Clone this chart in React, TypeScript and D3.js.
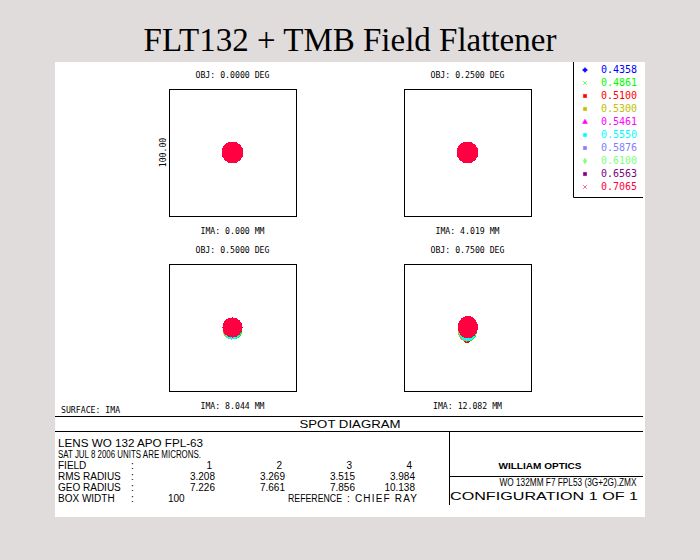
import * as d3 from 'd3';

// wavelengths (microns) and their plot colours
const wavelengths = ['0.4358', '0.4861', '0.5100', '0.5300', '0.5461', '0.5550', '0.5876', '0.6100', '0.6563', '0.7065'];
const wlColors = ['#0000ff', '#00ff00', '#ff0000', '#c0c000', '#ff00ff', '#00ffff', '#8080ff', '#80ff80', '#800080', '#ff0040'];
const wlSymbols = [d3.symbolCross, d3.symbolTimes, d3.symbolSquare, d3.symbolSquare, d3.symbolTriangle, d3.symbolSquare, d3.symbolSquare, d3.symbolDiamond, d3.symbolSquare, d3.symbolTimes];

// field angles (deg) and image heights (mm)
const fieldAngles = ['0.0000', '0.2500', '0.5000', '0.7500'];
const imaHeights = ['0.000', '4.019', '8.044', '12.082'];
const rmsRadius = ['3.208', '3.269', '3.515', '3.984'];
const geoRadius = ['7.226', '7.661', '7.856', '10.138'];
const boxWidth = 100;

// spot blobs per field: [wavelength index, cx, cy, rx, ry] in microns
const spotField1 = [[5, 0, 0, 8.2, 8.2], [9, 0, 0, 8.5, 8.5]];
const spotField2 = [[5, 0, 0, 8.2, 8.2], [9, 0, 0, 8.5, 8.5]];
const spotField3 = [[2, -1.2, -2.9, 6.3, 6.3], [3, -0.8, -2.7, 6.8, 6.8], [1, 0.9, -2.6, 6.8, 6.8], [5, 0, -2.3, 7.0, 7.0], [9, 0, 0, 8.0, 8.0]];
const spotField4 = [[2, -0.3, -3.8, 4.2, 8.6], [3, -1.0, -2.9, 6.6, 8.2], [1, 0.9, -2.8, 6.6, 8.2], [5, 0, -2.4, 7.2, 8.3], [9, 0.3, 0.3, 8.0, 8.8]];
const spotFields = [spotField1, spotField2, spotField3, spotField4];

const boxOrigins = [[169, 89], [404, 89], [169, 264], [404, 264]];
const BOX = 127;

const mono = '"DejaVu Sans Mono", monospace';
const sans = '"Liberation Sans", Arial, sans-serif';

function SpotBox({ idx }: { idx: number }) {
  const [x0, y0] = boxOrigins[idx];
  const x = d3.scaleLinear().domain([-boxWidth / 2, boxWidth / 2]).range([x0, x0 + BOX]);
  const y = d3.scaleLinear().domain([boxWidth / 2, -boxWidth / 2]).range([y0, y0 + BOX]);
  const k = BOX / boxWidth;
  return (
    <g>
      <text x={x(0)} y={y0 - 11} textAnchor="middle" fontFamily={mono} fontSize={8.2}>
        {`OBJ: ${fieldAngles[idx]} DEG`}
      </text>
      <rect x={x0 + 0.5} y={y0 + 0.5} width={BOX} height={BOX} fill="none" stroke="#000" strokeWidth={1} />
      {spotFields[idx].map((b, i) => (
        <ellipse key={i} cx={x(b[1])} cy={y(b[2])} rx={b[3] * k} ry={b[4] * k} fill={wlColors[b[0]]} shapeRendering="crispEdges" />
      ))}
      <text x={x(0)} y={y0 + BOX + 18} textAnchor="middle" fontFamily={mono} fontSize={8.2}>
        {`IMA: ${imaHeights[idx]} MM`}
      </text>
      {idx === 0 && (
        <text transform={`translate(${x0 - 3},${y(0)}) rotate(-90)`} textAnchor="middle" fontFamily={mono} fontSize={8.2}>
          {boxWidth.toFixed(2)}
        </text>
      )}
    </g>
  );
}

export default function App() {
  const legendY = d3.scaleLinear().domain([0, wavelengths.length - 1]).range([73, 190]);
  const colRight = [215, 285, 355, 415];
  const rowY = [447, 458, 469, 480, 491, 502];
  return (
    <svg width={700} height={560} style={{ position: 'absolute', left: 0, top: 0 }}>
      <rect width={700} height={560} fill="#e0dcdc" />
      <text x={350} y={51} textAnchor="middle" fontFamily='"Liberation Serif", "Times New Roman", serif' fontSize={33}>
        FLT132 + TMB Field Flattener
      </text>
      <rect x={55} y={62} width={590} height={455} fill="#fff" />

      {[0, 1, 2, 3].map((i) => <SpotBox key={i} idx={i} />)}

      {/* legend */}
      <path d="M573.5,62V197.5H643" fill="none" stroke="#000" />
      {wavelengths.map((w, i) => (
        <g key={w}>
          <path
            transform={`translate(585,${legendY(i) - 3})`}
            d={d3.symbol().type(wlSymbols[i]).size(10)() || ''}
            fill={wlColors[i]}
            stroke={wlColors[i]}
            strokeWidth={0.6}
          />
          <text x={601} y={legendY(i)} fontFamily={mono} fontSize={10} fill={wlColors[i]}>{w}</text>
        </g>
      ))}

      {/* footer frame */}
      <text x={61} y={413} fontFamily={mono} fontSize={8.2}>SURFACE: IMA</text>
      <path d="M55,416.5H643M55,431.5H643M449.5,431V505M449,476.5H643" fill="none" stroke="#000" />
      <text x={350} y={428} textAnchor="middle" fontFamily={sans} fontSize={11} textLength={101} lengthAdjust="spacingAndGlyphs">SPOT  DIAGRAM</text>

      <g fontFamily={sans} fontSize={10}>
        <text x={58} y={rowY[0]} textLength={145} lengthAdjust="spacingAndGlyphs">LENS WO 132 APO FPL-63</text>
        <text x={58} y={rowY[1]} textLength={143} lengthAdjust="spacingAndGlyphs">SAT JUL 8 2006  UNITS ARE MICRONS.</text>
        <text x={58} y={rowY[2]}>FIELD</text>
        <text x={58} y={rowY[3]}>RMS RADIUS</text>
        <text x={58} y={rowY[4]}>GEO RADIUS</text>
        <text x={58} y={rowY[5]}>BOX WIDTH</text>
        {[2, 3, 4, 5].map((r) => <text key={r} x={131} y={rowY[r]}>:</text>)}
        {colRight.map((cx, i) => (
          <g key={i} textAnchor="end">
            <text x={cx - 3} y={rowY[2]}>{i + 1}</text>
            <text x={cx} y={rowY[3]}>{rmsRadius[i]}</text>
            <text x={cx} y={rowY[4]}>{geoRadius[i]}</text>
          </g>
        ))}
        <text x={168} y={rowY[5]}>{boxWidth}</text>
        <text x={288} y={rowY[5]} textLength={54} lengthAdjust="spacingAndGlyphs">REFERENCE</text>
        <text x={347} y={rowY[5]} textLength={70} lengthAdjust="spacing">: CHIEF RAY</text>
      </g>

      <text x={540} y={469} textAnchor="middle" fontFamily={sans} fontSize={8.5} fontWeight="bold" textLength={83} lengthAdjust="spacingAndGlyphs">WILLIAM OPTICS</text>
      <text x={568} y={486} textAnchor="middle" fontFamily={sans} fontSize={10} textLength={137} lengthAdjust="spacingAndGlyphs">WO 132MM F7 FPL53 (3G+2G).ZMX</text>
      <text x={544} y={500} textAnchor="middle" fontFamily={sans} fontSize={11} textLength={188} lengthAdjust="spacingAndGlyphs">CONFIGURATION  1  OF  1</text>
    </svg>
  );
}
